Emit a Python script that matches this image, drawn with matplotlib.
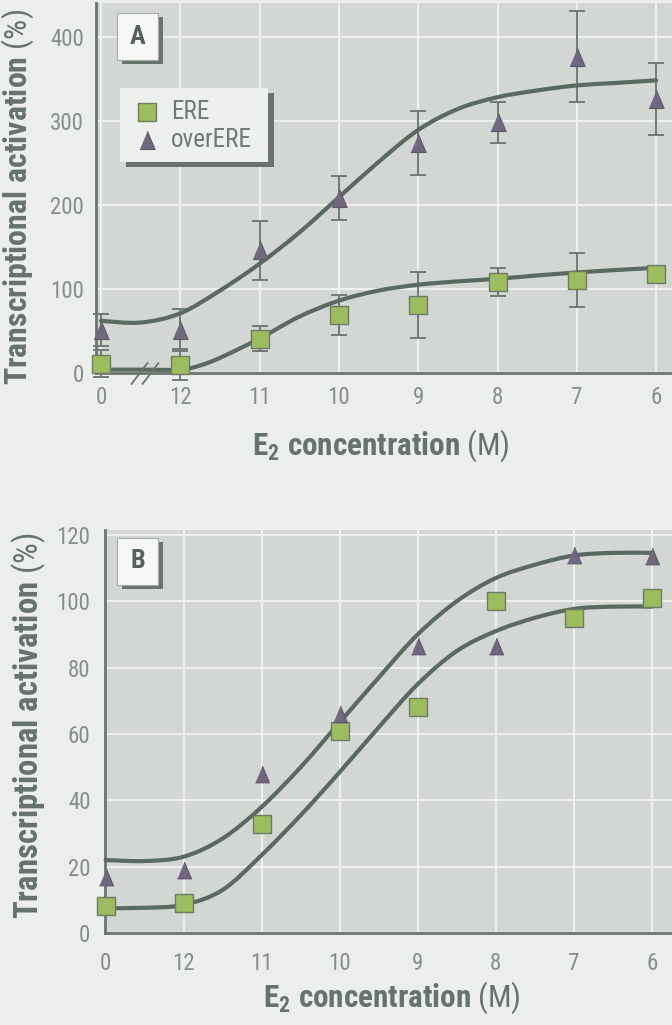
import numpy as np
import matplotlib
matplotlib.use("Agg")
import matplotlib.pyplot as plt
from matplotlib import font_manager as fm
from matplotlib.path import Path
from matplotlib.patches import PathPatch, Rectangle
from matplotlib.lines import Line2D

# ---------------- data ----------------
conc_labels = ["0", "12", "11", "10", "9", "8", "7", "6"]
conc_pos = [0, 1, 2, 3, 4, 5, 6, 7]

# Panel A (mean +/- error)
a_ere_mean = [11, 10, 41, 69, 81, 108, 111, 118]
a_ere_err = [16, 18, 15, 24, 39, 17, 32, 0]
a_over_mean = [51, 51, 146, 208, 273, 298, 376, 326]
a_over_err = [19, 25, 35, 26, 38, 24, 54, 43]

# Panel A fitted curves
a_fit_x = [0, 0.5, 1, 1.5, 2, 2.5, 3, 3.5, 4, 4.5, 5, 5.5, 6, 6.5, 7]
a_fit_over = [62, 60, 71, 98, 130, 167, 209, 251, 289, 314, 328, 336, 342, 345, 348]
a_fit_ere_x = [0, 0.5, 1, 1.25, 1.5, 2, 2.5, 3, 3.5, 4, 4.5, 5, 5.5, 6, 6.5, 7]
a_fit_ere = [4, 4, 4, 9, 18, 41, 67, 86, 98, 105, 109, 112, 116, 119.5, 122.5, 125]

# Panel B (means)
b_ere = [8, 9, 33, 61, 68, 100, 95, 101]
b_over = [17, 19, 48, 66, 86.5, 86.5, 114, 113.6]

# Panel B fitted curves
b_fit_x = [0, 0.5, 1, 1.5, 2, 2.5, 3, 3.5, 4, 4.5, 5, 5.5, 6, 6.5, 7]
b_fit_over = [22, 21.7, 23, 28.5, 38, 50, 63.5, 77, 90, 100, 107, 111, 113.8, 114.6, 114.6]
b_fit_ere = [7.5, 7.6, 8.5, 13, 23.5, 35.5, 48.5, 62, 75, 85, 91, 95, 97.7, 98.4, 98.4]

series_names = ["ERE", "overERE"]

# ---------------- font choice (condensed sans) ----------------
_fonts = fm.fontManager.ttflist
_candidates = ["Roboto Condensed", "Archivo Narrow", "PT Sans Narrow", "Liberation Sans Narrow",
               "Fira Sans Condensed", "IBM Plex Sans Condensed", "Encode Sans Condensed",
               "Asap Condensed", "Barlow Semi Condensed", "Open Sans Condensed"]
FONT_NAME = "DejaVu Sans"
for c in _candidates:
    regs = [f for f in _fonts if f.name == c and f.style == "normal"]
    ws = set()
    for f in regs:
        try:
            ws.add(int(f.weight))
        except Exception:
            ws.add(700 if str(f.weight) == "bold" else 400)
    if any(w >= 700 for w in ws) and any(w <= 500 for w in ws):
        FONT_NAME = c
        break

plt.rcParams["font.family"] = [FONT_NAME, "DejaVu Sans"]
plt.rcParams["mathtext.fontset"] = "custom"
plt.rcParams["mathtext.bf"] = f"{FONT_NAME}:bold"
plt.rcParams["mathtext.rm"] = FONT_NAME
plt.rcParams["mathtext.it"] = f"{FONT_NAME}:italic"

# ---------------- style ----------------
FIG_BG = "#eceeeb"
AX_BG = "#d3d7d4"
GRID = "#f1f3f1"
SPINE = "#69766d"
CURVE = "#5b6a60"
ERR = "#6f7b72"
SQ_FACE = "#9dbb5f"
SQ_EDGE = "#6e7c63"
TRI_FACE = "#71677f"
TRI_EDGE = "#5f576c"
TICK = "#858f88"
LABEL = "#65736a"
PANEL_TXT = "#55625a"
SHADOW = "#69736b"

W, H = 672, 1025
fig = plt.figure(figsize=(W / 100, H / 100), dpi=100, facecolor=FIG_BG)

TRI = [(-0.42, -0.5), (0.42, -0.5), (0.0, 0.5)]


def fx(px):
    return px / W


def fy(py):
    return 1 - py / H


def axes_px(left, top, right, bottom):
    return fig.add_axes([fx(left), fy(bottom), (right - left) / W, (bottom - top) / H])


def smooth_path(xs, ys):
    pts = np.column_stack([xs, ys]).astype(float)
    n = len(pts)
    verts = [pts[0]]
    codes = [Path.MOVETO]
    for i in range(n - 1):
        p0 = pts[i - 1] if i > 0 else pts[i]
        p1 = pts[i]
        p2 = pts[i + 1]
        p3 = pts[i + 2] if i + 2 < n else pts[i + 1]
        verts += [p1 + (p2 - p0) / 6, p2 - (p3 - p1) / 6, p2]
        codes += [Path.CURVE4] * 3
    return Path(verts, codes)


def style_axes(ax, xpad, ypad):
    ax.set_facecolor(AX_BG)
    for s in ["top", "right"]:
        ax.spines[s].set_visible(False)
    for s in ["left", "bottom"]:
        ax.spines[s].set_color(SPINE)
        ax.spines[s].set_linewidth(2.0)
    ax.set_axisbelow(True)
    ax.grid(True, color=GRID, lw=1.3)
    ax.tick_params(length=0, labelsize=16.5, labelcolor=TICK)
    ax.tick_params(axis="x", pad=xpad)
    ax.tick_params(axis="y", pad=ypad)
    ax.set_xticks(conc_pos)
    ax.set_xticklabels(conc_labels)


def draw_curve(ax, xs, ys):
    ax.add_patch(PathPatch(smooth_path(xs, ys), fill=False, edgecolor=CURVE,
                           lw=3.0, capstyle="round", zorder=4, clip_on=False))


def panel_box(letter, left, top, right, bottom):
    fig.patches.append(Rectangle((fx(left + 5), fy(bottom + 4)), (right - left) / W, (bottom - top) / H,
                                 transform=fig.transFigure, facecolor=SHADOW, edgecolor="none", zorder=10))
    fig.patches.append(Rectangle((fx(left), fy(bottom)), (right - left) / W, (bottom - top) / H,
                                 transform=fig.transFigure, facecolor="#f7f8f6", edgecolor="#a3aba5",
                                 lw=0.8, zorder=11))
    fig.text(fx((left + right) / 2), fy((top + bottom) / 2), letter, ha="center", va="center",
             fontsize=19, fontweight="bold", color=PANEL_TXT, zorder=12)


_renderer = fig.canvas.get_renderer()


def fit_text(t, target_px, use_height=False):
    bb = t.get_window_extent(_renderer)
    cur = bb.height if use_height else bb.width
    if cur > 0:
        t.set_fontsize(t.get_fontsize() * target_px / cur)


YLABEL = r"$\mathbf{Transcriptional\ activation}$ (%)"
XLABEL = r"$\mathbf{E_{2}\ concentration}$ (M)"

# ---------------- Panel A ----------------
axA = axes_px(96, 3, 672, 373)
style_axes(axA, xpad=9, ypad=8.5)
axA.set_xlim(-0.063, 7.2)
axA.set_ylim(0, 440)
axA.set_yticks([0, 100, 200, 300, 400])

axA.errorbar(conc_pos, a_ere_mean, yerr=a_ere_err, fmt="none", ecolor=ERR, elinewidth=1.4,
             capsize=6, capthick=1.4, zorder=3, clip_on=False)
axA.errorbar(conc_pos, a_over_mean, yerr=a_over_err, fmt="none", ecolor=ERR, elinewidth=1.4,
             capsize=6, capthick=1.4, zorder=3, clip_on=False)
draw_curve(axA, a_fit_x, a_fit_over)
draw_curve(axA, a_fit_ere_x, a_fit_ere)
axA.plot(conc_pos, a_ere_mean, ls="none", marker="s", ms=13.5, mfc=SQ_FACE, mec=SQ_EDGE, mew=1.0,
         zorder=6, clip_on=False)
axA.plot(conc_pos, a_over_mean, ls="none", marker=TRI, ms=13, mfc=TRI_FACE, mec=TRI_EDGE, mew=0.8,
         zorder=6, clip_on=False)

# axis break marks "//"
axA.plot([0.48, 0.615], [0, 0], ls="none", marker=[(-0.38, -0.5), (0.38, 0.5)], ms=16,
         mec=SPINE, mew=1.3, mfc="none", zorder=7, clip_on=False)

# labels
ylA = fig.text(fx(18), fy(197), YLABEL, rotation=90, ha="center", va="center", fontsize=21, color=LABEL)
xlA = fig.text(fx(381), fy(446), XLABEL, ha="center", va="center", fontsize=21, color=LABEL)
fit_text(ylA, 376, use_height=True)
fit_text(xlA, 258)

panel_box("A", 117, 13, 158, 60)

# legend (manual, with drop shadow)
lg_l, lg_t, lg_r, lg_b = 120, 88, 268, 162
fig.patches.append(Rectangle((fx(lg_l + 6), fy(lg_b + 5)), (lg_r - lg_l) / W, (lg_b - lg_t) / H,
                             transform=fig.transFigure, facecolor=SHADOW, edgecolor="none", zorder=10))
fig.patches.append(Rectangle((fx(lg_l), fy(lg_b)), (lg_r - lg_l) / W, (lg_b - lg_t) / H,
                             transform=fig.transFigure, facecolor="#eef0ed", edgecolor="none", zorder=11))
fig.add_artist(Line2D([fx(147)], [fy(112)], ls="none", marker="s", ms=12.5, mfc=SQ_FACE, mec=SQ_EDGE,
                      mew=1.0, transform=fig.transFigure, zorder=12))
fig.add_artist(Line2D([fx(147)], [fy(140)], ls="none", marker=TRI, ms=13, mfc=TRI_FACE, mec=TRI_EDGE,
                      mew=0.8, transform=fig.transFigure, zorder=12))
lt1 = fig.text(fx(171), fy(112), series_names[0], ha="left", va="center", fontsize=17, color="#6f7a72", zorder=12)
lt2 = fig.text(fx(171), fy(140), series_names[1], ha="left", va="center", fontsize=17, color="#6f7a72", zorder=12)
fit_text(lt2, 81)
lt1.set_fontsize(lt2.get_fontsize())

# ---------------- Panel B ----------------
axB = axes_px(105, 530, 672, 933)
style_axes(axB, xpad=14, ypad=10.5)
axB.set_xlim(-0.008, 7.26)
axB.set_ylim(0, 121.5)
axB.set_yticks([0, 20, 40, 60, 80, 100, 120])

draw_curve(axB, b_fit_x, b_fit_over)
draw_curve(axB, b_fit_x, b_fit_ere)
axB.plot(conc_pos, b_ere, ls="none", marker="s", ms=13.5, mfc=SQ_FACE, mec=SQ_EDGE, mew=1.0,
         zorder=6, clip_on=False)
axB.plot(conc_pos, b_over, ls="none", marker=TRI, ms=12, mfc=TRI_FACE, mec=TRI_EDGE, mew=0.8,
         zorder=6, clip_on=False)

ylB = fig.text(fx(29), fy(726), YLABEL, rotation=90, ha="center", va="center", fontsize=21, color=LABEL)
xlB = fig.text(fx(392), fy(998), XLABEL, ha="center", va="center", fontsize=21, color=LABEL)
fit_text(ylB, 386, use_height=True)
fit_text(xlB, 258)

panel_box("B", 117, 538, 158, 585)

fig.savefig("out.png", dpi=100, facecolor=FIG_BG)
